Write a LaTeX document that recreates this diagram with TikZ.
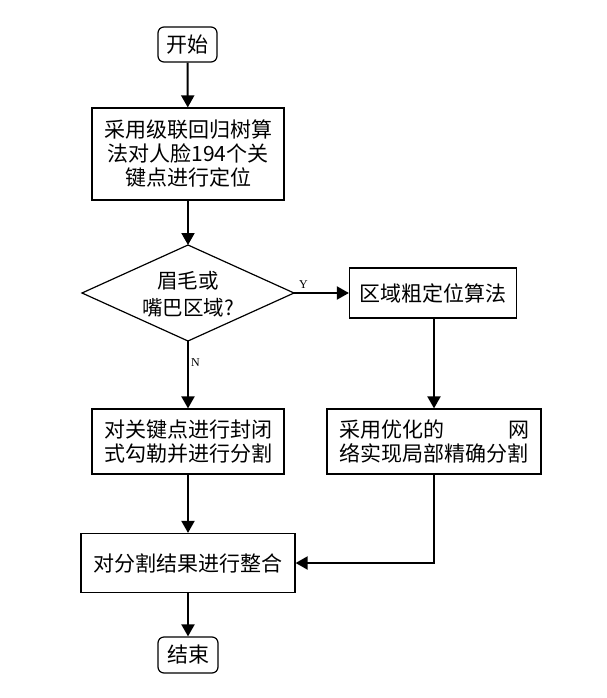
\documentclass[tikz,border=0pt]{standalone}
\usepackage{fontspec}
\setmainfont{Noto Sans CJK SC}
\newfontfamily\latinserif{Liberation Serif}
\usetikzlibrary{arrows.meta,shapes.geometric}
\begin{document}
\begin{tikzpicture}[x=1pt,y=-1pt,
  every node/.style={font=\fontsize{21pt}{24pt}\selectfont, align=center, inner sep=0pt},
  term/.style={draw, line width=1.2pt, rounded corners=6pt},
  proc/.style={draw, line width=1.2pt},
  deci/.style={draw, line width=1.2pt},
  conn/.style={line width=2pt, -{Triangle[length=12pt,width=13pt]}},
  lab/.style={font=\latinserif\fontsize{12pt}{14pt}\selectfont}]
\useasboundingbox (0,0) rectangle (607,698);
\node[term, minimum width=59pt, minimum height=35pt] (start) at (187.5,44.5) {开始};
\node[proc, minimum width=192pt, minimum height=92pt] (loc) at (188,154) {采用级联回归树算\\法对人脸194个关\\键点进行定位};
\coordinate (decN) at (188,245);
\coordinate (decS) at (188,341);
\coordinate (decW) at (82,293);
\coordinate (decE) at (294,293);
\draw[deci] (decN) -- (decE) -- (decS) -- (decW) -- cycle;
\node[font=\fontsize{20.5pt}{27pt}\selectfont] (dec) at (188,294) {眉毛或\\嘴巴区域?};
\node[proc, minimum width=167pt, minimum height=50pt] (coarse) at (433,293) {区域粗定位算法};
\node[proc, minimum width=192pt, minimum height=65pt] (left) at (188,441.5) {对关键点进行封闭\\式勾勒并进行分割};
\node[proc, minimum width=214pt, minimum height=65pt] (right) at (434,441.5) {\makebox[190pt]{采用优化的\hfill 网}\\络实现局部精确分割};
\node[proc, minimum width=214pt, minimum height=59pt] (merge) at (188,563) {对分割结果进行整合};
\node[term, minimum width=60pt, minimum height=36pt] (end) at (188,655) {结束};
\draw[conn] (start) -- (loc);
\draw[conn] (loc) -- (decN);
\draw[conn] (decE) -- node[lab, above, pos=0.17, yshift=4pt] {Y} (coarse.west);
\draw[conn] (decS) -- node[lab, right, pos=0.32, xshift=2pt] {N} (left.north);
\draw[conn] (coarse.south -| right.north) -- (right.north);
\draw[conn] (left) -- (merge);
\coordinate (bend) at (right.south |- merge.east);
\draw[conn] (right.south) -- (bend) -- (merge.east);
\draw[conn] (merge) -- (end);
\end{tikzpicture}
\end{document}
